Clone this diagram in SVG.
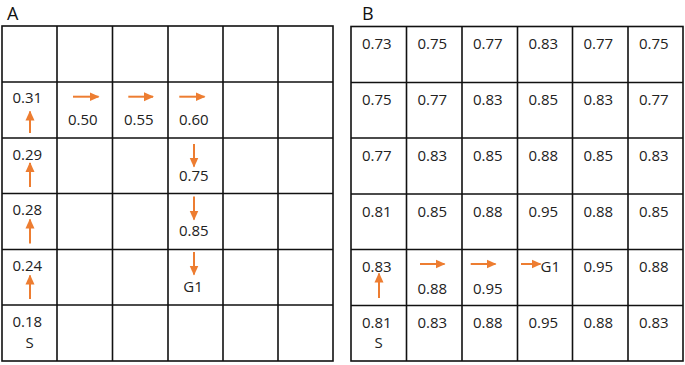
<svg xmlns="http://www.w3.org/2000/svg" width="685" height="365" viewBox="0 0 685 365">
<style>
.g{stroke:#111;stroke-width:1.6;fill:none}
.t{font-family:"Open Sans","Liberation Sans",sans-serif;font-size:15px;fill:#222}
.c{text-anchor:middle}
.h{font-family:"Open Sans","Liberation Sans",sans-serif;font-size:18px;fill:#111}
.a{stroke:#ED7D31;stroke-width:2;fill:none;marker-end:url(#ah)}
</style>
<defs>
<marker id="ah" markerUnits="userSpaceOnUse" markerWidth="10" markerHeight="10" viewBox="0 0 10 10" refX="9" refY="5" orient="auto">
<path d="M0,0.5 L10,5 L0,9.5 Z" fill="#ED7D31"/>
</marker>
</defs>
<rect width="685" height="365" fill="#fff"/>
<text class="h" x="7" y="19.5">A</text>
<text class="h" x="362" y="19.5">B</text>
<g id="gridA" class="g">
<rect x="2" y="26" width="331" height="335"/>
<path d="M57,26V361M112.5,26V361M168,26V361M223,26V361M278,26V361M2,82H333M2,138H333M2,193.5H333M2,249.5H333M2,305H333"/>
</g>
<g id="gridB" class="g">
<rect x="351" y="26.5" width="332" height="334.5"/>
<path d="M406.5,26.5V361M462,26.5V361M517.5,26.5V361M572.5,26.5V361M628,26.5V361M351,82.5H683M351,138H683M351,194H683M351,249.5H683M351,305.5H683"/>
</g>
<g id="labelsA" class="t">
<text x="12.5" y="103">0.31</text>
<text x="68" y="125">0.50</text>
<text x="124" y="125">0.55</text>
<text x="179" y="125">0.60</text>
<text x="12.5" y="159.5">0.29</text>
<text x="179" y="181">0.75</text>
<text x="12.5" y="215">0.28</text>
<text x="179" y="236">0.85</text>
<text x="12.5" y="271">0.24</text>
<text class="c" x="193" y="292">G1</text>
<text x="12.5" y="327">0.18</text>
<text class="c" x="29.5" y="348">S</text>
</g>
<g id="labelsB" class="t">
<text x="362" y="49">0.73</text><text x="417.5" y="49">0.75</text><text x="473" y="49">0.77</text><text x="528.5" y="49">0.83</text><text x="583.5" y="49">0.77</text><text x="639" y="49">0.75</text>
<text x="362" y="104.5">0.75</text><text x="417.5" y="104.5">0.77</text><text x="473" y="104.5">0.83</text><text x="528.5" y="104.5">0.85</text><text x="583.5" y="104.5">0.83</text><text x="639" y="104.5">0.77</text>
<text x="362" y="160.5">0.77</text><text x="417.5" y="160.5">0.83</text><text x="473" y="160.5">0.85</text><text x="528.5" y="160.5">0.88</text><text x="583.5" y="160.5">0.85</text><text x="639" y="160.5">0.83</text>
<text x="362" y="216.5">0.81</text><text x="417.5" y="216.5">0.85</text><text x="473" y="216.5">0.88</text><text x="528.5" y="216.5">0.95</text><text x="583.5" y="216.5">0.88</text><text x="639" y="216.5">0.85</text>
<text x="362" y="272">0.83</text><text x="417.5" y="294">0.88</text><text x="473" y="294">0.95</text><text x="540.5" y="272">G1</text><text x="583.5" y="272">0.95</text><text x="639" y="272">0.88</text>
<text x="362" y="327.5">0.81</text><text x="417.5" y="327.5">0.83</text><text x="473" y="327.5">0.88</text><text x="528.5" y="327.5">0.95</text><text x="583.5" y="327.5">0.88</text><text x="639" y="327.5">0.83</text>
<text class="c" x="378.5" y="348">S</text>
</g>
<g id="connectors">
<path class="a" d="M30,133V111.5"/>
<path class="a" d="M73,96.7H98.5"/>
<path class="a" d="M128.3,96.7H153"/>
<path class="a" d="M179.3,96.7H204.5"/>
<path class="a" d="M30,187V163"/>
<path class="a" d="M194,144V166.5"/>
<path class="a" d="M30,243.5V219.5"/>
<path class="a" d="M194,196.5V219.5"/>
<path class="a" d="M30,299V275.5"/>
<path class="a" d="M194,252V274.5"/>
<path class="a" d="M379,298V273.5"/>
<path class="a" d="M420,264H444.5"/>
<path class="a" d="M470.7,264H495.5"/>
<path class="a" d="M521,264H540.5"/>
</g>
</svg>
